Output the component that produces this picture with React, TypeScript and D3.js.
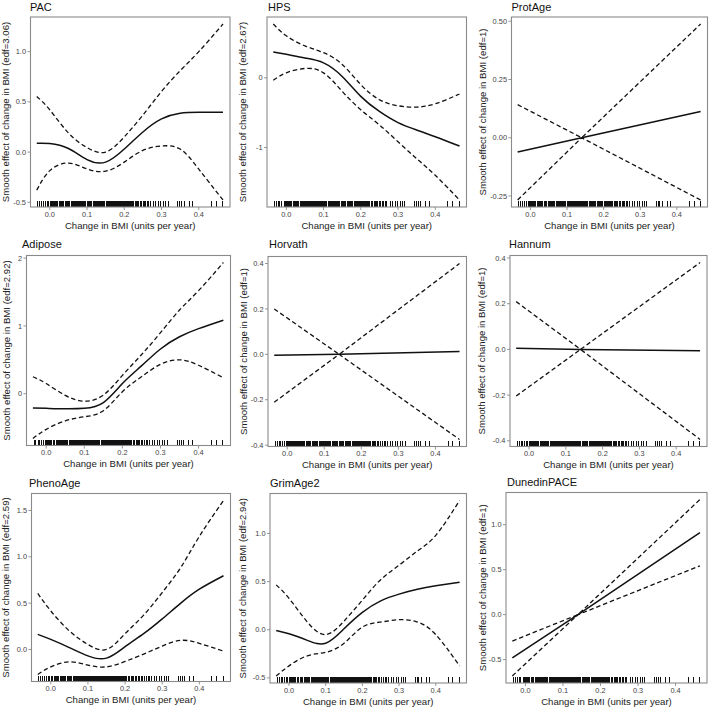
import React from 'react';
import * as d3 from 'd3';

// GAM smooth effects of change in BMI on each ageing clock
const panelNames = ['PAC', 'HPS', 'ProtAge', 'Adipose', 'Horvath', 'Hannum', 'PhenoAge', 'GrimAge2', 'DunedinPACE'];
const panelEdf = [3.06, 2.67, 1, 2.92, 1, 1, 2.59, 2.94, 1];

// evaluation points for the smooth terms and for the linear (edf=1) terms
const smoothX = [-0.035, 0, 0.05, 0.1, 0.15, 0.2, 0.25, 0.3, 0.35, 0.4, 0.465];
const linearX = [-0.035, 0.14, 0.465];

const pacFit = [0.088, 0.085, 0.035, -0.075, -0.1, 0.03, 0.2, 0.33, 0.386, 0.396, 0.396];
const pacUpper = [0.554, 0.42, 0.19, 0.045, 0.0, 0.151, 0.369, 0.604, 0.81, 1.0, 1.275];
const pacLower = [-0.379, -0.185, -0.11, -0.168, -0.19, -0.1, 0.017, 0.06, 0.03, -0.17, -0.477];

const hpsFit = [0.372, 0.338, 0.285, 0.215, 0.02, -0.266, -0.483, -0.643, -0.749, -0.845, -0.98];
const hpsUpper = [0.773, 0.604, 0.459, 0.362, 0.193, -0.097, -0.314, -0.401, -0.42, -0.372, -0.232];
const hpsLower = [-0.034, 0.072, 0.135, 0.072, -0.193, -0.459, -0.676, -0.918, -1.16, -1.4, -1.754];

const protAgeFit = [-0.061, 0.0, 0.113];
const protAgeUpper = [0.142, 0.0, 0.488];
const protAgeLower = [-0.267, 0.0, -0.267];

const adiposeFit = [-0.21, -0.215, -0.222, -0.215, -0.13, 0.15, 0.41, 0.66, 0.84, 0.96, 1.085];
const adiposeUpper = [0.25, 0.15, -0.025, -0.11, -0.02, 0.27, 0.575, 0.9, 1.235, 1.52, 1.935];
const adiposeLower = [-0.66, -0.525, -0.4, -0.34, -0.25, 0.03, 0.25, 0.435, 0.5, 0.42, 0.235];

const horvathFit = [-0.0045, 0.0, 0.012];
const horvathUpper = [0.2, 0.0, 0.4];
const horvathLower = [-0.211, 0.0, -0.375];

const hannumFit = [0.0045, 0.0, -0.006];
const hannumUpper = [0.209, 0.0, 0.38];
const hannumLower = [-0.204, 0.0, -0.394];

const phenoAgeFit = [0.163, 0.108, 0.02, -0.07, -0.094, 0.03, 0.17, 0.33, 0.5, 0.65, 0.795];
const phenoAgeUpper = [0.604, 0.416, 0.2, 0.054, 0.0, 0.17, 0.37, 0.614, 0.885, 1.22, 1.608];
const phenoAgeLower = [-0.271, -0.188, -0.134, -0.17, -0.188, -0.13, -0.05, 0.036, 0.098, 0.065, -0.018];

const grimAge2Fit = [-0.007, -0.042, -0.11, -0.14, 0.01, 0.18, 0.3, 0.37, 0.42, 0.456, 0.494];
const grimAge2Upper = [0.466, 0.326, 0.08, -0.05, 0.09, 0.308, 0.52, 0.67, 0.817, 0.98, 1.342];
const grimAge2Lower = [-0.48, -0.375, -0.27, -0.235, -0.14, 0.028, 0.08, 0.105, 0.08, -0.05, -0.375];

const dunedinFit = [-0.482, 0.0, 0.912];
const dunedinUpper = [-0.294, 0.0, 1.28];
const dunedinLower = [-0.682, 0.0, 0.543];

const fitSeries = [pacFit, hpsFit, protAgeFit, adiposeFit, horvathFit, hannumFit, phenoAgeFit, grimAge2Fit, dunedinFit];
const upperSeries = [pacUpper, hpsUpper, protAgeUpper, adiposeUpper, horvathUpper, hannumUpper, phenoAgeUpper, grimAge2Upper, dunedinUpper];
const lowerSeries = [pacLower, hpsLower, protAgeLower, adiposeLower, horvathLower, hannumLower, phenoAgeLower, grimAge2Lower, dunedinLower];

const xTickValues = [0, 0.1, 0.2, 0.3, 0.4];
const xTickLabels = ['0.0', '0.1', '0.2', '0.3', '0.4'];

const yTickValues = [
  [-0.5, 0, 0.5, 1.0],
  [-1, 0],
  [-0.25, 0, 0.25, 0.5],
  [0, 1, 2],
  [-0.4, -0.2, 0, 0.2, 0.4],
  [-0.4, -0.2, 0, 0.2, 0.4],
  [0, 0.5, 1.0, 1.5],
  [-0.5, 0, 0.5, 1.0],
  [-0.5, 0, 0.5, 1.0],
];
const yTickLabels = [
  ['-0.5', '0.0', '0.5', '1.0'],
  ['-1', '0'],
  ['-0.25', '0.00', '0.25', '0.50'],
  ['0', '1', '2'],
  ['-0.4', '-0.2', '0.0', '0.2', '0.4'],
  ['-0.4', '-0.2', '0.0', '0.2', '0.4'],
  ['0.0', '0.5', '1.0', '1.5'],
  ['-0.5', '0.0', '0.5', '1.0'],
  ['-0.5', '0.0', '0.5', '1.0'],
];

// observed change in BMI (rug)
const rugX = [
  -0.032, -0.027, -0.021, -0.017, -0.012, -0.006, -0.003, 0.001, 0.004,
  0.006, 0.009, 0.011, 0.012, 0.015, 0.018, 0.019, 0.022, 0.026, 0.027, 0.03,
  0.032, 0.034, 0.037, 0.038, 0.041, 0.044, 0.045, 0.048, 0.051, 0.053, 0.054,
  0.057, 0.06, 0.063, 0.064, 0.067, 0.07, 0.071, 0.074, 0.077, 0.079, 0.08,
  0.083, 0.086, 0.088, 0.09, 0.093, 0.095, 0.097, 0.1, 0.102, 0.105, 0.106,
  0.109, 0.112, 0.113, 0.116, 0.118, 0.121, 0.123, 0.125, 0.128, 0.13, 0.133,
  0.134, 0.137, 0.14, 0.141, 0.144, 0.147, 0.148, 0.151, 0.153, 0.156, 0.157,
  0.16, 0.163, 0.165, 0.167, 0.17, 0.172, 0.175, 0.176, 0.179, 0.182, 0.184,
  0.186, 0.189, 0.191, 0.193, 0.196, 0.198, 0.201, 0.203, 0.205, 0.208, 0.211,
  0.213, 0.216, 0.219, 0.222, 0.224,
  0.229, 0.232, 0.236, 0.239, 0.243, 0.246, 0.251, 0.253, 0.258, 0.262, 0.266, 0.27,
  0.279, 0.284, 0.293, 0.298, 0.306, 0.311, 0.318,
  0.344, 0.349, 0.354, 0.361, 0.374, 0.384,
  0.434, 0.447, 0.464,
];

// plotting frames in page pixels: box edges, title anchor, y-label baseline
const frames = [
  { x0: 30.5, x1: 230, y0: 17, y1: 207, tx: 30, ty: 10.5, lx: 8.7 },
  { x0: 267, x1: 466.5, y0: 17, y1: 207, tx: 268, ty: 10.5, lx: 246 },
  { x0: 511.5, x1: 707.5, y0: 17, y1: 207, tx: 511.5, ty: 10.5, lx: 486 },
  { x0: 26.5, x1: 230.5, y0: 255.5, y1: 445.5, tx: 22, ty: 247.5, lx: 9.7 },
  { x0: 268, x1: 466.5, y0: 256.5, y1: 446.5, tx: 269, ty: 247.5, lx: 247 },
  { x0: 510, x1: 707, y0: 255.5, y1: 446.5, tx: 509, ty: 247.5, lx: 485 },
  { x0: 31.5, x1: 230.5, y0: 493.5, y1: 681.5, tx: 29, ty: 487, lx: 9 },
  { x0: 270, x1: 466.5, y0: 493.5, y1: 683, tx: 270, ty: 487, lx: 246 },
  { x0: 506, x1: 707, y0: 492.5, y1: 683, tx: 507, ty: 486, lx: 486 },
];

const FONT = "'Liberation Sans', Arial, Helvetica, sans-serif";

const Panel: React.FC<{ i: number }> = ({ i }) => {
  const f = frames[i];
  const linear = panelEdf[i] === 1;
  const xs = linear ? linearX : smoothX;
  const fit = fitSeries[i];
  const upper = upperSeries[i];
  const lower = lowerSeries[i];

  // axis limits as plot.gam sets them: data range widened by 4%
  const [xmin, xmax] = d3.extent(rugX) as [number, number];
  const xpad = (xmax - xmin) * 0.04;
  const x = d3.scaleLinear().domain([xmin - xpad, xmax + xpad]).range([f.x0, f.x1]);

  const [ymin, ymax] = d3.extent([...upper, ...lower]) as [number, number];
  const ypad = (ymax - ymin) * 0.04;
  const y = d3.scaleLinear().domain([ymin - ypad, ymax + ypad]).range([f.y1, f.y0]);

  const line = d3
    .line<number>()
    .x((_, k) => x(xs[k]))
    .y((d) => y(d))
    .curve(linear ? d3.curveLinear : d3.curveNatural);

  const boxColor = '#8a8a8a';

  return (
    <g>
      <text x={f.tx} y={f.ty} fontSize={11} fill="#111">{panelNames[i]}</text>

      {/* rug */}
      <g shapeRendering="crispEdges">
        {rugX.map((v, k) => (
          <line key={k} x1={x(v)} x2={x(v)} y1={f.y1 - 0.5} y2={f.y1 - 6} stroke="#111" strokeWidth={1} />
        ))}
      </g>

      {/* confidence bands and fit */}
      <path d={line(upper) ?? ''} fill="none" stroke="#111" strokeWidth={1.3} strokeDasharray="4.5,2.8" />
      <path d={line(lower) ?? ''} fill="none" stroke="#111" strokeWidth={1.3} strokeDasharray="4.5,2.8" />
      <path d={line(fit) ?? ''} fill="none" stroke="#111" strokeWidth={1.5} />

      <rect x={f.x0} y={f.y0} width={f.x1 - f.x0} height={f.y1 - f.y0} fill="none" stroke={boxColor} strokeWidth={1.1} />

      {/* x axis */}
      {xTickValues.map((v, k) => (
        <g key={k}>
          <line x1={x(v)} x2={x(v)} y1={f.y1} y2={f.y1 + 3} stroke={boxColor} strokeWidth={0.9} />
          <text x={x(v)} y={f.y1 + 9.5} fontSize={7.4} fill="#444" textAnchor="middle">{xTickLabels[k]}</text>
        </g>
      ))}
      <text x={(f.x0 + f.x1) / 2} y={f.y1 + 21.5} fontSize={9.6} fill="#222" textAnchor="middle">
        Change in BMI (units per year)
      </text>

      {/* y axis */}
      {yTickValues[i].map((v, k) => (
        <g key={k}>
          <line x1={f.x0 - 3} x2={f.x0} y1={y(v)} y2={y(v)} stroke={boxColor} strokeWidth={0.9} />
          <text x={f.x0 - 4.5} y={y(v)} dy="0.35em" fontSize={7.4} fill="#444" textAnchor="end">{yTickLabels[i][k]}</text>
        </g>
      ))}
      <text
        transform={`translate(${f.lx},${(f.y0 + f.y1) / 2}) rotate(-90)`}
        fontSize={9.6}
        fill="#222"
        textAnchor="middle"
      >
        {`Smooth effect of change in BMI (edf=${panelEdf[i]})`}
      </text>
    </g>
  );
};

export default function App() {
  return (
    <svg
      width={709}
      height={709}
      style={{ position: 'absolute', left: 0, top: 0, background: '#fff', fontFamily: FONT }}
    >
      {panelNames.map((_, i) => (
        <Panel key={i} i={i} />
      ))}
    </svg>
  );
}
